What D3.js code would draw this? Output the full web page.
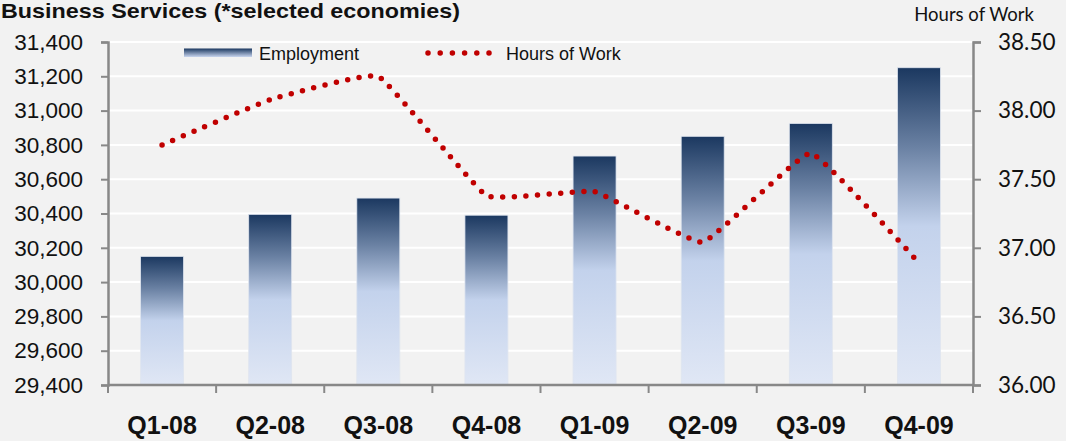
<!DOCTYPE html>
<html>
<head>
<meta charset="utf-8">
<script src="https://cdn.jsdelivr.net/npm/d3@7"></script>
<style>
  html, body { margin: 0; padding: 0; background: #f2f2f2; }
  svg { display: block; }
</style>
</head>
<body>
<svg id="chart" width="1066" height="441"></svg>
<script>
// Quarterly data, business services (selected economies)
const quarters = ["Q1-08", "Q2-08", "Q3-08", "Q4-08", "Q1-09", "Q2-09", "Q3-09", "Q4-09"];
const employment = [30150, 30395, 30490, 30390, 30735, 30850, 30925, 31250];
const hoursOfWork = [37.75, 38.08, 38.25, 37.38, 37.41, 37.04, 37.69, 36.89];
const leftTicks = [29400, 29600, 29800, 30000, 30200, 30400, 30600, 30800, 31000, 31200, 31400];
const rightTicks = [36.0, 36.5, 37.0, 37.5, 38.0, 38.5];

const svg = d3.select("#chart");
const W = 1066, H = 441;
const m = { left: 108, right: 1066 - 973, top: 42, bottom: 441 - 385 };

svg.append("rect").attr("width", W).attr("height", H).attr("fill", "#f2f2f2");

const x = d3.scaleBand().domain(quarters).range([m.left, W - m.right]).paddingInner(0).paddingOuter(0);
const yL = d3.scaleLinear().domain([29400, 31400]).range([H - m.bottom, m.top]);
const yR = d3.scaleLinear().domain([36, 38.5]).range([H - m.bottom, m.top]);

// Bar gradient: navy at the top fading to pale blue
const defs = svg.append("defs");
const grad = defs.append("linearGradient").attr("id", "barGrad")
  .attr("x1", 0).attr("y1", 0).attr("x2", 0).attr("y2", 1);
grad.append("stop").attr("offset", 0).attr("stop-color", "#1b3860");
grad.append("stop").attr("offset", 0.25).attr("stop-color", "#6a81a3");
grad.append("stop").attr("offset", 0.5).attr("stop-color", "#c3d2ec");
grad.append("stop").attr("offset", 1).attr("stop-color", "#e0e7f5");

// Horizontal gridlines
svg.append("g").selectAll("line").data(leftTicks).join("line")
  .attr("x1", m.left).attr("x2", W - m.right)
  .attr("y1", d => yL(d)).attr("y2", d => yL(d))
  .attr("stroke", "#ffffff").attr("stroke-width", 2);

// Employment bars
const barW = 43;
svg.append("g").selectAll("rect").data(quarters).join("rect")
  .attr("x", d => x(d) + x.bandwidth() / 2 - barW / 2)
  .attr("y", (d, i) => yL(employment[i]))
  .attr("width", barW)
  .attr("height", (d, i) => yL(29400) - yL(employment[i]))
  .attr("fill", "url(#barGrad)")
  .attr("stroke", "#dfe5ef").attr("stroke-width", 0.8);

// Hours of work, lightly smoothed dotted line
const line = d3.line()
  .x((d, i) => x(quarters[i]) + x.bandwidth() / 2)
  .y(d => yR(d))
  .curve(d3.curveCardinal.tension(0.72));
svg.append("path").datum(hoursOfWork)
  .attr("d", line)
  .attr("fill", "none")
  .attr("stroke", "#c00000")
  .attr("stroke-width", 5.5)
  .attr("stroke-linecap", "round")
  .attr("stroke-dasharray", "0 11.6");

// Axes
const axisColor = "#888888";
const gL = svg.append("g").attr("transform", `translate(${m.left},0)`)
  .call(d3.axisLeft(yL).tickValues(leftTicks).tickSize(7).tickFormat(d3.format(",")));
gL.selectAll("text").attr("x", -25)
  .style("font-family", "Liberation Sans, Arial, sans-serif").style("font-size", "22.5px").attr("fill", "#111");

const gR = svg.append("g").attr("transform", `translate(${W - m.right},0)`)
  .call(d3.axisRight(yR).tickValues(rightTicks).tickSize(8).tickFormat(d3.format(".2f")));
gR.selectAll("text").attr("x", 25)
  .style("font-family", "Lato, sans-serif").style("font-size", "22.5px").attr("fill", "#111");

const gX = svg.append("g").attr("transform", `translate(0,${H - m.bottom})`)
  .call(d3.axisBottom(x).tickSize(0));
gX.selectAll(".tick text").attr("y", 0).attr("dy", 0)
  .attr("transform", "translate(0,49)")
  .style("font-family", "Liberation Sans, Arial, sans-serif")
  .style("font-size", "25px").style("font-weight", "bold").attr("fill", "#111");
// Category boundary ticks
gX.append("g").selectAll("line")
  .data(d3.range(quarters.length + 1))
  .join("line")
  .attr("x1", i => m.left + i * x.bandwidth()).attr("x2", i => m.left + i * x.bandwidth())
  .attr("y1", 0).attr("y2", 8);

[gL, gR, gX].forEach(g => {
  g.selectAll("path.domain").attr("stroke", axisColor).attr("stroke-width", 2.5);
  g.selectAll("line").attr("stroke", axisColor).attr("stroke-width", 2);
});
gX.select("path.domain").attr("d", `M${m.left},0H${W - m.right}`);

// Title and right axis caption
svg.append("text").attr("x", 1).attr("y", 17.5)
  .attr("textLength", 459).attr("lengthAdjust", "spacingAndGlyphs")
  .style("font-family", "Liberation Sans, Arial, sans-serif").style("font-size", "21px")
  .style("font-weight", "bold").attr("fill", "#111")
  .text("Business Services (*selected economies)");
svg.append("text").attr("x", 1034).attr("y", 20.5).attr("text-anchor", "end")
  .style("font-family", "Lato, sans-serif").style("font-size", "18.5px").attr("fill", "#111")
  .text("Hours of Work");

// Legend
const lg = svg.append("g");
const swGrad = defs.append("linearGradient").attr("id", "swGrad")
  .attr("x1", 0).attr("y1", 0).attr("x2", 0).attr("y2", 1);
swGrad.append("stop").attr("offset", 0).attr("stop-color", "#1b3860");
swGrad.append("stop").attr("offset", 1).attr("stop-color", "#c8d5ee");
lg.append("rect").attr("x", 184).attr("y", 48.5).attr("width", 68).attr("height", 8.5).attr("fill", "url(#swGrad)");
lg.append("text").attr("x", 259).attr("y", 59.5)
  .style("font-family", "Liberation Sans, Arial, sans-serif").style("font-size", "18px").attr("fill", "#111")
  .text("Employment");
lg.append("line").attr("x1", 428).attr("x2", 489).attr("y1", 53).attr("y2", 53)
  .attr("stroke", "#c00000").attr("stroke-width", 5.5).attr("stroke-linecap", "round")
  .attr("stroke-dasharray", "0 12.2");
lg.append("text").attr("x", 506).attr("y", 59.5)
  .style("font-family", "Liberation Sans, Arial, sans-serif").style("font-size", "18px").attr("fill", "#111")
  .text("Hours of Work");
</script>
</body>
</html>
